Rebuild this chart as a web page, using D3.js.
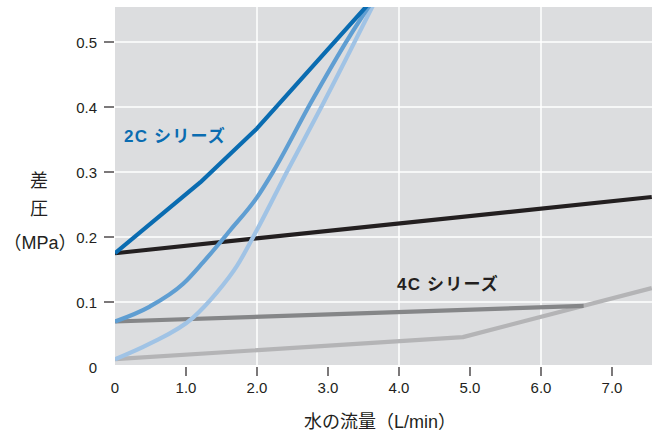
<!DOCTYPE html>
<html><head><meta charset="utf-8">
<script src="https://cdn.jsdelivr.net/npm/d3@7"></script>
<style>
html,body{margin:0;padding:0;background:#fff;}
text{font-family:"Liberation Sans",Arial,"Noto Sans CJK JP",sans-serif;fill:#231f20;}
</style></head>
<body>
<svg id="c" width="655" height="434"></svg>
<script>
const xTicks = [0,1,2,3,4,5,6,7];
const xTickLabels = ["0","1.0","2.0","3.0","4.0","5.0","6.0","7.0"];
const yTicks = [0,0.1,0.2,0.3,0.4,0.5];
const yTickLabels = ["0","0.1","0.2","0.3","0.4","0.5"];
const xGrid = [2,4,6];
const yGrid = [0.1,0.2,0.3,0.4,0.5];

// 2C series
const s2cDark = [[0,0.175],[1.2,0.284],[2.0,0.367],[3.6,0.562]];
const s2cMid = [[0,0.07],[0.49,0.093],[0.96,0.128],[1.24,0.161],[1.62,0.21],[2.0,0.261],[2.23,0.301],[2.75,0.405],[3.3,0.508],[3.62,0.562]];
const s2cLight = [[0,0.012],[0.49,0.036],[1.1,0.076],[1.43,0.114],[1.72,0.156],[2.0,0.211],[2.42,0.30],[2.93,0.405],[3.66,0.562]];
// black reference line
const sBlack = [[0,0.175],[7.56,0.2615]];
// 4C series
const s4cDark = [[0,0.07],[6.6,0.094]];
const s4cLight = [[0,0.012],[4.9,0.046],[7.56,0.1215]];

const svg = d3.select("#c");
const L=115, R=652, T=7, B=365;
const x = d3.scaleLinear().domain([0,7]).range([115,612]);
const y = d3.scaleLinear().domain([0,0.5]).range([367,42]);

svg.append("defs").append("clipPath").attr("id","clip")
  .append("rect").attr("x",L).attr("y",T).attr("width",R-L).attr("height",B-T);

svg.append("rect").attr("x",L).attr("y",T).attr("width",R-L).attr("height",B-T).attr("fill","#dcdddf");

svg.selectAll(".hg").data(yGrid).enter().append("line")
  .attr("x1",L).attr("x2",R).attr("y1",d=>y(d)).attr("y2",d=>y(d))
  .attr("stroke","#fff").attr("stroke-width",1.5);
svg.selectAll(".vg").data(xGrid).enter().append("line")
  .attr("y1",T).attr("y2",B).attr("x1",d=>x(d)).attr("x2",d=>x(d))
  .attr("stroke","#fff").attr("stroke-width",1.5);

const g = svg.append("g").attr("clip-path","url(#clip)");
const lineLin = d3.line().x(d=>x(d[0])).y(d=>y(d[1]));
const lineCurve = d3.line().x(d=>x(d[0])).y(d=>y(d[1])).curve(d3.curveMonotoneX);

const series = [
  {d:s4cLight, c:"#b4b4b6", f:lineLin},
  {d:s4cDark, c:"#858688", f:lineLin},
  {d:sBlack, c:"#231f20", f:lineLin},
  {d:s2cLight, c:"#a0c3e5", f:lineCurve},
  {d:s2cMid, c:"#5f9ed2", f:lineCurve},
  {d:s2cDark, c:"#0a6cb1", f:lineLin}
];
series.forEach(s=>{
  g.append("path").attr("d",s.f(s.d)).attr("fill","none")
   .attr("stroke",s.c).attr("stroke-width",4.2).attr("stroke-linejoin","round");
});

// Y axis ticks & labels
svg.selectAll(".yt").data(yTicks.filter(d=>d>0)).enter().append("line")
  .attr("x1",104).attr("x2",114).attr("y1",d=>y(d)).attr("y2",d=>y(d))
  .attr("stroke","#231f20").attr("stroke-width",1.2);
svg.selectAll(".yl").data(yTicks).enter().append("text")
  .attr("x",97).attr("y",d=>y(d)+5.5).attr("text-anchor","end")
  .attr("font-size",15).text((d,i)=>yTickLabels[i]);

// X axis ticks & labels
svg.selectAll(".xt").data(xTicks.filter(d=>d>0)).enter().append("line")
  .attr("x1",d=>x(d)).attr("x2",d=>x(d)).attr("y1",367).attr("y2",376)
  .attr("stroke","#231f20").attr("stroke-width",1.2);
svg.selectAll(".xl").data(xTicks).enter().append("text")
  .attr("x",d=>x(d)).attr("y",393).attr("text-anchor","middle")
  .attr("font-size",15).text((d,i)=>xTickLabels[i]);

// Titles
svg.append("text").attr("x",39).attr("y",187).attr("text-anchor","middle").attr("font-size",18).text("差");
svg.append("text").attr("x",39).attr("y",215).attr("text-anchor","middle").attr("font-size",18).text("圧");
svg.append("text").attr("x",40).attr("y",249).attr("text-anchor","middle").attr("font-size",18).text("（MPa）");
svg.append("text").attr("x",380).attr("y",428).attr("text-anchor","middle").attr("font-size",18).text("水の流量（L/min）");

svg.append("text").attr("x",124).attr("y",142).attr("font-size",17).attr("font-weight","bold")
  .attr("letter-spacing",1.2).style("fill","#0a6cb1").text("2C シリーズ");
svg.append("text").attr("x",397).attr("y",290).attr("font-size",17).attr("font-weight","bold")
  .attr("letter-spacing",1.2).text("4C シリーズ");
</script>
</body></html>
